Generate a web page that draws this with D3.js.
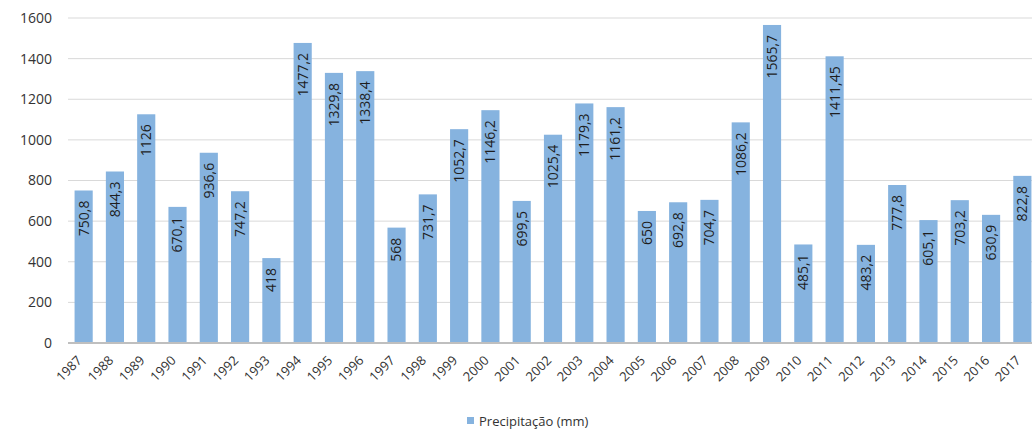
<!DOCTYPE html>
<html><head><meta charset="utf-8">
<script src="https://cdn.jsdelivr.net/npm/d3@7"></script>
<style>html,body{margin:0;padding:0;background:#fff;overflow:hidden}</style>
</head><body>
<svg id="c" width="1032" height="432"></svg>
<script>
const years = ["1987","1988","1989","1990","1991","1992","1993","1994","1995","1996","1997","1998","1999","2000","2001","2002","2003","2004","2005","2006","2007","2008","2009","2010","2011","2012","2013","2014","2015","2016","2017"];
const precip = [750.8,844.3,1126,670.1,936.6,747.2,418,1477.2,1329.8,1338.4,568,731.7,1052.7,1146.2,699.5,1025.4,1179.3,1161.2,650,692.8,704.7,1086.2,1565.7,485.1,1411.45,483.2,777.8,605.1,703.2,630.9,822.8];
const yTicks = [0,200,400,600,800,1000,1200,1400,1600];
const seriesName = "Precipitação (mm)";

const svg = d3.select("#c");
const font = "'Open Sans', sans-serif";
const x = d3.scaleBand().domain(years).range([68, 1038]).paddingInner(0.42).paddingOuter(0.21);
const y = d3.scaleLinear().domain([0, 1600]).range([343, 18]);

// gridlines
svg.append("g").selectAll("line").data(yTicks.filter(d => d > 0)).join("line")
  .attr("x1", 68).attr("x2", 1038)
  .attr("y1", d => y(d)).attr("y2", d => y(d))
  .attr("stroke", "#d9d9d9").attr("stroke-width", 1);

// y axis labels
const ya = svg.append("g").attr("transform", "translate(68,0)")
  .call(d3.axisLeft(y).tickValues(yTicks).tickFormat(d3.format("d")).tickSize(0).tickPadding(16));
ya.select(".domain").remove();
ya.selectAll("text").attr("font-family", font).attr("font-size", 14).attr("fill", "#333");

// bars
svg.append("g").selectAll("rect").data(years).join("rect")
  .attr("x", d => x(d)).attr("width", x.bandwidth())
  .attr("y", (d, i) => y(precip[i])).attr("height", (d, i) => y(0) - y(precip[i]))
  .attr("fill", "#86b3df");

// baseline
svg.append("line").attr("x1", 68).attr("x2", 1038).attr("y1", y(0)).attr("y2", y(0))
  .attr("stroke", "#bfbfbf").attr("stroke-width", 2);

// value labels
svg.append("g").selectAll("text").data(years).join("text")
  .attr("transform", (d, i) => `translate(${x(d) + x.bandwidth() / 2},${y(precip[i]) + 10}) rotate(-90)`)
  .attr("text-anchor", "end").attr("dy", "0.35em")
  .attr("font-family", font).attr("font-size", 14).attr("fill", "#1e1e1e")
  .text((d, i) => String(precip[i]).replace(".", ","));

// x axis labels
const xa = svg.append("g").attr("transform", `translate(0,${y(0)})`)
  .call(d3.axisBottom(x).tickSize(0));
xa.select(".domain").remove();
xa.selectAll("text")
  .attr("font-family", font).attr("font-size", 13).attr("fill", "#333")
  .attr("text-anchor", "end")
  .attr("transform", "translate(-4,15) rotate(-45)")
  .attr("dy", "0.35em").attr("y", 0).attr("x", 0);

// legend
const lg = svg.append("g").attr("transform", "translate(467,421)");
lg.append("rect").attr("x", 0).attr("y", -4).attr("width", 7).attr("height", 7).attr("fill", "#86b3df");
lg.append("text").attr("x", 12).attr("y", 0).attr("dy", "0.35em")
  .attr("font-family", font).attr("font-size", 13).attr("fill", "#333").text(seriesName);
</script>
</body></html>
